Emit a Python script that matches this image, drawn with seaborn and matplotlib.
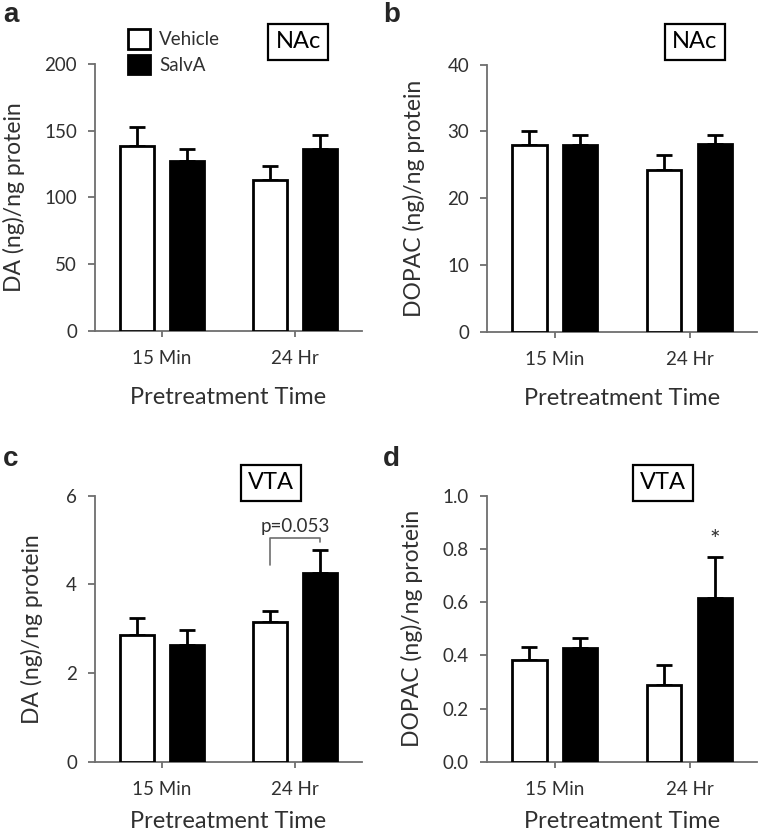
import pandas as pd
import matplotlib
matplotlib.use("Agg")
import matplotlib.pyplot as plt
from matplotlib.patches import Patch
import seaborn as sns

# Data (mean, upward SEM)
groups = ["15 Min", "24 Hr"]
treatments = ["Vehicle", "SalvA"]

da_nac_vehicle = [138.6, 113.1]
da_nac_vehicle_err = [14.0, 10.7]
da_nac_salva = [127.3, 136.3]
da_nac_salva_err = [9.3, 10.3]

dopac_nac_vehicle = [28.0, 24.3]
dopac_nac_vehicle_err = [2.0, 2.2]
dopac_nac_salva = [27.9, 28.1]
dopac_nac_salva_err = [1.5, 1.3]

da_vta_vehicle = [2.87, 3.16]
da_vta_vehicle_err = [0.37, 0.25]
da_vta_salva = [2.64, 4.26]
da_vta_salva_err = [0.34, 0.52]

dopac_vta_vehicle = [0.383, 0.290]
dopac_vta_vehicle_err = [0.047, 0.073]
dopac_vta_salva = [0.426, 0.615]
dopac_vta_salva_err = [0.040, 0.153]

sns.set_style("white")
plt.rcParams["font.family"] = ["Lato", "DejaVu Sans"]

AXIS_GRAY = "#6e6e6e"
TEXT_GRAY = "#303030"

fig = plt.figure(figsize=(7.6, 8.4), dpi=100)

# axes rectangles in figure fraction
rects = {
    "a": [0.125, 0.606, 0.351, 0.318],
    "b": [0.641, 0.605, 0.355, 0.318],
    "c": [0.125, 0.093, 0.351, 0.317],
    "d": [0.641, 0.093, 0.355, 0.317],
}

panels = [
    ("a", da_nac_vehicle, da_nac_vehicle_err, da_nac_salva, da_nac_salva_err,
     "DA (ng)/ng protein", 200, [0, 50, 100, 150, 200], "NAc", "{:.0f}"),
    ("b", dopac_nac_vehicle, dopac_nac_vehicle_err, dopac_nac_salva, dopac_nac_salva_err,
     "DOPAC (ng)/ng protein", 40, [0, 10, 20, 30, 40], "NAc", "{:.0f}"),
    ("c", da_vta_vehicle, da_vta_vehicle_err, da_vta_salva, da_vta_salva_err,
     "DA (ng)/ng protein", 6, [0, 2, 4, 6], "VTA", "{:.0f}"),
    ("d", dopac_vta_vehicle, dopac_vta_vehicle_err, dopac_vta_salva, dopac_vta_salva_err,
     "DOPAC (ng)/ng protein", 1.0, [0, 0.2, 0.4, 0.6, 0.8, 1.0], "VTA", "{:.1f}"),
]

# region box label positions (figure px)
box_pos = {"a": (298, 42), "b": (695, 42), "c": (271, 483), "d": (663, 483)}
letter_pos = {"a": (3, 2), "b": (383, 2), "c": (3, 446), "d": (383, 446)}
ylabel_x = {"a": -0.262, "b": -0.230, "c": -0.195, "d": -0.237}
xlabel_pad = {"a": 14, "b": 14, "c": 9, "d": 9}

axes = {}
for key, veh, veh_err, sal, sal_err, ylabel, ymax, yticks, region, fmt in panels:
    ax = fig.add_axes(rects[key])
    axes[key] = ax
    df = pd.DataFrame({
        "group": groups * 2,
        "treatment": [treatments[0]] * 2 + [treatments[1]] * 2,
        "value": veh + sal,
    })
    sns.barplot(
        data=df, x="group", y="value", hue="treatment",
        hue_order=treatments, order=groups,
        palette={"Vehicle": "white", "SalvA": "black"},
        edgecolor="black", linewidth=2, width=0.75, gap=0.32,
        errorbar=None, legend=False, ax=ax, zorder=3,
    )
    # upward-only error bars on top of each bar
    for container, errs in zip(ax.containers, [veh_err, sal_err]):
        for bar, e in zip(container, errs):
            xc = bar.get_x() + bar.get_width() / 2
            h = bar.get_height()
            ax.errorbar(xc, h, yerr=[[0], [e]], fmt="none", ecolor="black",
                        elinewidth=2, capsize=6, capthick=2, zorder=2)

    ax.set_xlim(-0.5, 1.5)
    ax.set_ylim(0, ymax)
    ax.set_yticks(yticks)
    ax.set_yticklabels([fmt.format(t) for t in yticks])
    ax.set_xlabel("Pretreatment Time", fontsize=17, color=TEXT_GRAY,
                  labelpad=xlabel_pad[key])
    ax.set_ylabel(ylabel, fontsize=16.5, color=TEXT_GRAY)
    ax.yaxis.set_label_coords(ylabel_x[key], 0.5)
    sns.despine(ax=ax)
    for s in ["left", "bottom"]:
        ax.spines[s].set_color(AXIS_GRAY)
        ax.spines[s].set_linewidth(1.3)
    ax.tick_params(axis="y", direction="out", length=5, width=1.3, color=AXIS_GRAY,
                   labelsize=13.5, labelcolor=TEXT_GRAY, left=True, pad=8)
    ax.tick_params(axis="x", direction="out", length=4, width=1.3, color=AXIS_GRAY,
                   labelsize=13.5, labelcolor=TEXT_GRAY, bottom=True, pad=10)

    bx, by = box_pos[key]
    fig.text(bx / 760, 1 - by / 840, region, ha="center", va="center",
             fontsize=17, color="black",
             bbox=dict(boxstyle="square,pad=0.3", fc="white", ec="black", lw=1.6))
    lx, ly = letter_pos[key]
    fig.text(lx / 760, 1 - ly / 840, key, ha="left", va="top",
             fontsize=20, fontweight="bold", family=["Liberation Sans", "DejaVu Sans"])

# legend in panel a
handles = [Patch(facecolor="white", edgecolor="black", linewidth=2),
           Patch(facecolor="black", edgecolor="black", linewidth=2)]
fig.legend(handles, treatments, loc="upper left", bbox_to_anchor=(119 / 760, 1 - 20 / 840),
           frameon=False, fontsize=13.5, handlelength=1.15, handleheight=1.2,
           handletextpad=0.5, labelspacing=0.35, borderpad=0, labelcolor=TEXT_GRAY)

# p-value bracket in panel c
ax = axes["c"]
bars = ax.containers
x_left = bars[0][1].get_x() + bars[0][1].get_width() / 2
x_right = bars[1][1].get_x() + bars[1][1].get_width() / 2
ax.plot([x_left, x_left, x_right, x_right], [4.43, 5.05, 5.05, 4.95],
        color=AXIS_GRAY, lw=1.2, clip_on=False)
ax.text((x_left + x_right) / 2, 5.12, "p=0.053", ha="center", va="bottom",
        fontsize=13.5, color=TEXT_GRAY)

# significance star in panel d
ax = axes["d"]
bar = ax.containers[1][1]
ax.text(bar.get_x() + bar.get_width() / 2, 0.79, "*", ha="center", va="bottom",
        fontsize=18, color=TEXT_GRAY)

fig.savefig("out.png", dpi=100)
